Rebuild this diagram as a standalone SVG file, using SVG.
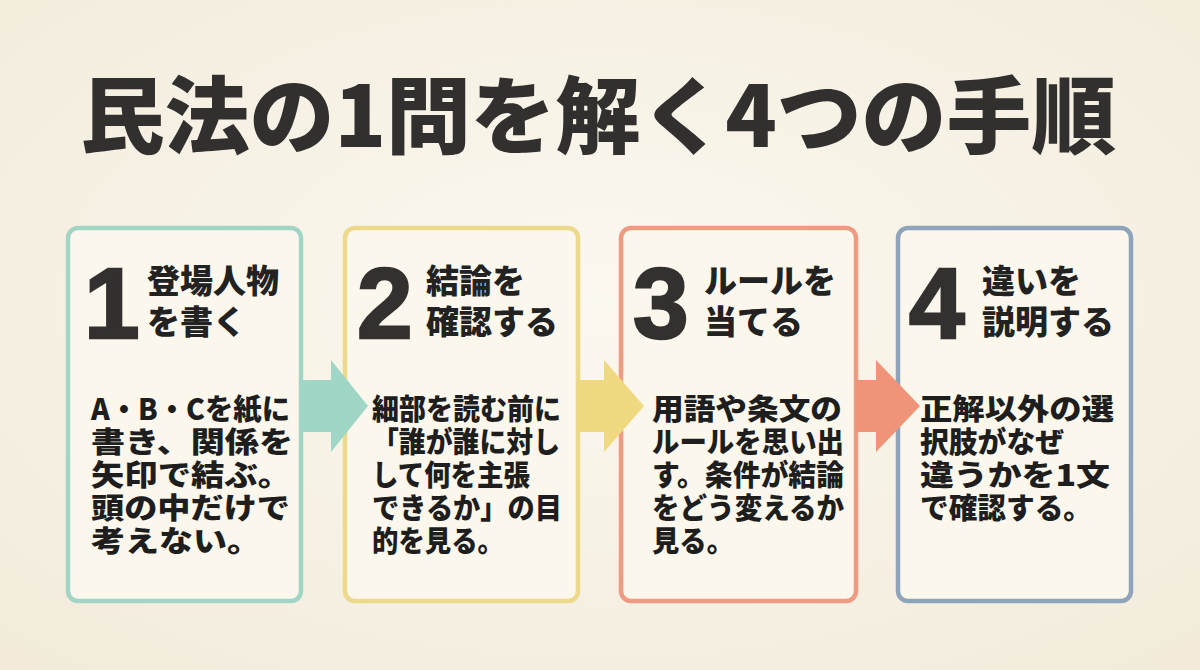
<svg xmlns="http://www.w3.org/2000/svg" width="1200" height="670" viewBox="0 0 1200 670">
<defs>
<radialGradient id="bg" cx="50%" cy="45%" r="75%">
<stop offset="0" stop-color="#FBF8EF"/>
<stop offset="1" stop-color="#F2EBDB"/>
</radialGradient>
<style>
.box{fill:#FBF7EC;stroke-width:4.5}
.num{font-family:"Liberation Sans","DejaVu Sans",sans-serif;font-weight:bold;font-size:100px;fill:#333130;stroke:#333130;stroke-width:2.5}
.hd{font-family:"Noto Sans CJK JP",sans-serif;font-weight:900;font-size:33px;fill:#222}
.bd{font-family:"Noto Sans CJK JP",sans-serif;font-weight:900;font-size:29px;fill:#1e1e1e}
.title{font-family:"Noto Sans CJK JP",sans-serif;font-weight:900;font-size:84px;fill:#32302e}
</style>
</defs>
<rect width="1200" height="670" fill="url(#bg)"/>
<text class="title" x="80" y="147" textLength="1036" lengthAdjust="spacingAndGlyphs">民法の1問を解く4つの手順</text>

<g id="step1">
<rect class="box" x="68" y="228" width="233" height="373" rx="10" stroke="#A3D5C6"/>
<text class="num" x="84" y="338">1</text>
<text class="hd"><tspan x="147" y="293">登場人物</tspan><tspan x="147" y="334">を書く</tspan></text>
<text class="bd"><tspan x="91" y="420" textLength="199" lengthAdjust="spacingAndGlyphs">A・B・Cを紙に</tspan><tspan x="91" y="453" textLength="202" lengthAdjust="spacingAndGlyphs">書き、関係を</tspan><tspan x="91" y="486" textLength="200" lengthAdjust="spacingAndGlyphs">矢印で結ぶ。</tspan><tspan x="91" y="519" textLength="199" lengthAdjust="spacingAndGlyphs">頭の中だけで</tspan><tspan x="91" y="552" textLength="170" lengthAdjust="spacingAndGlyphs">考えない。</tspan></text>
</g>

<g id="step2">
<rect class="box" x="345" y="228" width="233" height="373" rx="10" stroke="#EDD98C"/>
<text class="num" x="357" y="338">2</text>
<text class="hd"><tspan x="426" y="293">結論を</tspan><tspan x="426" y="334">確認する</tspan></text>
<text class="bd"><tspan x="372" y="420" textLength="189" lengthAdjust="spacingAndGlyphs">細部を読む前に</tspan><tspan x="372" y="453" textLength="188" lengthAdjust="spacingAndGlyphs">「誰が誰に対し</tspan><tspan x="372" y="486" textLength="158" lengthAdjust="spacingAndGlyphs">して何を主張</tspan><tspan x="372" y="519" textLength="190" lengthAdjust="spacingAndGlyphs">できるか」の目</tspan><tspan x="372" y="552" textLength="132" lengthAdjust="spacingAndGlyphs">的を見る。</tspan></text>
</g>

<g id="step3">
<rect class="box" x="621" y="228" width="235" height="373" rx="10" stroke="#EE9B82"/>
<text class="num" x="633" y="338">3</text>
<text class="hd"><tspan x="704" y="293">ルールを</tspan><tspan x="704" y="334">当てる</tspan></text>
<text class="bd"><tspan x="652" y="420" textLength="190" lengthAdjust="spacingAndGlyphs">用語や条文の</tspan><tspan x="652" y="453" textLength="192" lengthAdjust="spacingAndGlyphs">ルールを思い出</tspan><tspan x="652" y="486" textLength="192" lengthAdjust="spacingAndGlyphs">す。条件が結論</tspan><tspan x="652" y="519" textLength="192" lengthAdjust="spacingAndGlyphs">をどう変えるか</tspan><tspan x="652" y="552" textLength="82" lengthAdjust="spacingAndGlyphs">見る。</tspan></text>
</g>

<g id="step4">
<rect class="box" x="898" y="228" width="233" height="373" rx="10" stroke="#8FA3BA"/>
<text class="num" x="909" y="338">4</text>
<text class="hd"><tspan x="982" y="293">違いを</tspan><tspan x="982" y="334">説明する</tspan></text>
<text class="bd"><tspan x="920" y="420" textLength="194" lengthAdjust="spacingAndGlyphs">正解以外の選</tspan><tspan x="920" y="453" textLength="144" lengthAdjust="spacingAndGlyphs">択肢がなぜ</tspan><tspan x="920" y="486" textLength="190" lengthAdjust="spacingAndGlyphs">違うかを1文</tspan><tspan x="920" y="519" textLength="172" lengthAdjust="spacingAndGlyphs">で確認する。</tspan></text>
</g>

<g id="connectors">
<polygon points="301,380 331,380 331,360 368,406 331,452 331,432 301,432" fill="#9FD6C6"/>
<polygon points="578,380 604,380 604,360 644,406 604,452 604,432 578,432" fill="#EFDA82"/>
<polygon points="856,380 876,380 876,360 920,406 876,452 876,432 856,432" fill="#EF9478"/>
</g>
</svg>
